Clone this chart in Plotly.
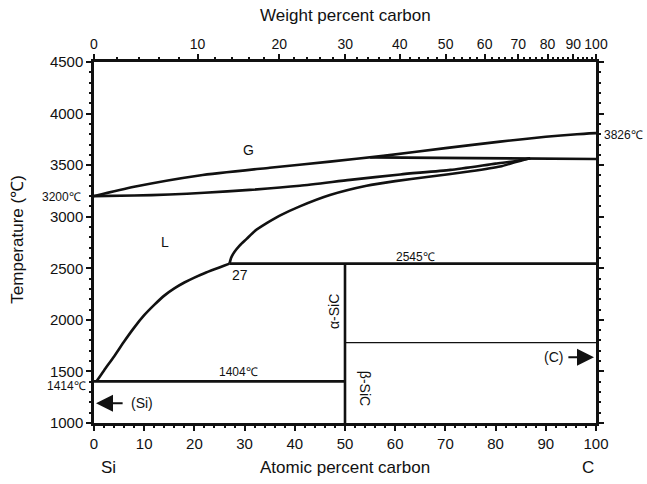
import plotly.graph_objects as go

# ---------------- data (atomic % C, temperature in degC) ----------------
liquidus_si_x = [0.5, 2, 4, 6, 8, 10, 12, 14, 16, 18, 20, 22, 24, 26, 27]
liquidus_si_y = [1404, 1510, 1645, 1790, 1925, 2045, 2145, 2235, 2305, 2362, 2410, 2452, 2490, 2527, 2545]

liquidus_c_x = [27.0, 27.3, 28.0, 29.0, 30.4, 32.0, 34.4, 37.0, 41.0, 47.0, 54.3, 60.0, 66.3,
                75.0, 80.9, 84.0, 86.9]
liquidus_c_y = [2545, 2600, 2660, 2720, 2785, 2860, 2937, 3010, 3100, 3210, 3300, 3345, 3385,
                3440, 3486, 3530, 3567]

middle_x = [0, 8, 15, 22, 31, 41, 51, 61, 71, 80, 84, 86.9]
middle_y = [3200, 3205, 3215, 3232, 3260, 3300, 3357, 3410, 3454, 3515, 3540, 3567]

upper_x = [0, 8, 21, 35, 47, 57.6, 70, 80.9, 90, 96.2, 100]
upper_y = [3200, 3290, 3400, 3475, 3534, 3590, 3665, 3728, 3775, 3800, 3810]

line_3560_x = [55, 100]
line_3560_y = [3575, 3560]

peritectic_x = [27, 100]
peritectic_y = [2545, 2545]

eutectic_x = [0, 50]
eutectic_y = [1404, 1404]

sic_x = [50, 50]
sic_y = [1000, 2545]

alpha_beta_x = [50, 100]
alpha_beta_y = [1780, 1780]

x_ticks = [0, 10, 20, 30, 40, 50, 60, 70, 80, 90, 100]
y_ticks = [1000, 1500, 2000, 2500, 3000, 3500, 4000, 4500]
wt_ticks = [0, 10, 20, 30, 40, 50, 60, 70, 80, 90, 100]
wt_minor = [w for w in range(0, 101, 2)]

M_C, M_SI = 12.011, 28.086


def wt_to_at(w):
    nc = w / M_C
    ns = (100 - w) / M_SI
    return 100 * nc / (nc + ns)


FONT = "Liberation Sans, Arial, sans-serif"
BLACK = "#111111"

fig = go.Figure()


def add_line(x, y, width=2.6, smooth=False):
    line = dict(color=BLACK, width=width)
    if smooth:
        line.update(shape="spline", smoothing=0.6)
    fig.add_trace(go.Scatter(x=x, y=y, mode="lines", line=line,
                             showlegend=False, hoverinfo="skip"))


add_line(liquidus_si_x, liquidus_si_y, smooth=True)
add_line(liquidus_c_x, liquidus_c_y, smooth=True)
add_line(middle_x, middle_y, smooth=True)
add_line(upper_x, upper_y, smooth=True)
add_line(line_3560_x, line_3560_y)
add_line(peritectic_x, peritectic_y)
add_line(eutectic_x, eutectic_y)
add_line(sic_x, sic_y)
add_line(alpha_beta_x, alpha_beta_y, width=1.2)

# invisible trace for top axis
fig.add_trace(go.Scatter(x=[0, 100], y=[1000, 1000], xaxis="x2", mode="markers",
                         marker=dict(opacity=0), showlegend=False, hoverinfo="skip"))

ann = []


def txt(x, y, s, size=14, angle=0, xref="x", yref="y"):
    ann.append(dict(x=x, y=y, xref=xref, yref=yref, text=s, showarrow=False,
                    xanchor="center", yanchor="middle",
                    textangle=angle, font=dict(family=FONT, size=size, color=BLACK)))


txt(30.7, 3648, "G", 14)
txt(14.1, 2758, "L", 14)
txt(29.0, 2435, "27", 14)
txt(64.0, 2613, "2545℃", 12)
txt(28.7, 1497, "1404℃", 12)
txt(47.7, 2080, "α-SiC", 14, angle=-90)
txt(54.0, 1340, "β-SiC", 14, angle=90)
txt(9.6, 1191, "(Si)", 14)
txt(91.6, 1637, "(C)", 14)

# outside labels (paper coords)
txt(-0.064, (423 - 197) / 361, "3200℃", 12, xref="paper", yref="paper")
txt(-0.054, (423 - 386) / 361, "1414℃", 12, xref="paper", yref="paper")
txt(1.055, (423 - 135) / 361, "3826℃", 12, xref="paper", yref="paper")
txt(0.5, 1.13, "Weight percent carbon", 17, xref="paper", yref="paper")
txt(0.5, -0.122, "Atomic percent carbon", 17, xref="paper", yref="paper")
txt(0.028, -0.122, "Si", 17, xref="paper", yref="paper")
txt(0.985, -0.122, "C", 17, xref="paper", yref="paper")
txt(-0.152, 0.507, "Temperature (℃)", 17, angle=-90, xref="paper", yref="paper")

# arrows
ann.append(dict(x=0.4, y=1191, ax=6.0, ay=1191, xref="x", yref="y", axref="x", ayref="y",
                showarrow=True, arrowhead=2, arrowsize=1.7, arrowwidth=2, arrowcolor=BLACK, text=""))
ann.append(dict(x=99.6, y=1637, ax=94.2, ay=1637, xref="x", yref="y", axref="x", ayref="y",
                showarrow=True, arrowhead=2, arrowsize=1.7, arrowwidth=2, arrowcolor=BLACK, text=""))

tickfont = dict(family=FONT, size=15, color=BLACK)
tickfont_top = dict(family=FONT, size=14, color=BLACK)

fig.update_layout(
    width=647, height=484,
    margin=dict(l=94, r=51, t=62, b=61),
    paper_bgcolor="white", plot_bgcolor="white",
    annotations=ann,
    xaxis=dict(range=[0, 100], tickmode="array", tickvals=x_ticks, ticks="outside",
               ticklen=5, tickwidth=1.5, tickcolor=BLACK, showline=True, linecolor=BLACK,
               linewidth=2.5, showgrid=False, zeroline=False, tickfont=tickfont, tickangle=0,
               minor=dict(dtick=2, ticks="outside", ticklen=2, tickcolor=BLACK, showgrid=False)),
    xaxis2=dict(range=[0, 100], overlaying="x", side="top", anchor="y", tickmode="array",
                tickvals=[wt_to_at(w) for w in wt_ticks], ticktext=[str(w) for w in wt_ticks],
                ticks="outside", ticklen=5, tickwidth=1.5, tickcolor=BLACK, showline=True,
                linecolor=BLACK, linewidth=2.5, showgrid=False, zeroline=False,
                tickfont=tickfont_top, tickangle=0,
                minor=dict(tickmode="array", tickvals=[wt_to_at(w) for w in wt_minor],
                           ticks="outside", ticklen=2, tickcolor=BLACK, showgrid=False)),
    yaxis=dict(range=[1000, 4500], tickmode="array", tickvals=y_ticks, ticks="outside",
               ticklen=5, tickwidth=1.5, tickcolor=BLACK, showline=True, linecolor=BLACK,
               linewidth=2.5, mirror="ticks", showgrid=False, zeroline=False, tickfont=tickfont,
               minor=dict(dtick=100, ticks="outside", ticklen=2, tickcolor=BLACK, showgrid=False)),
)

fig.write_html("out.html")
